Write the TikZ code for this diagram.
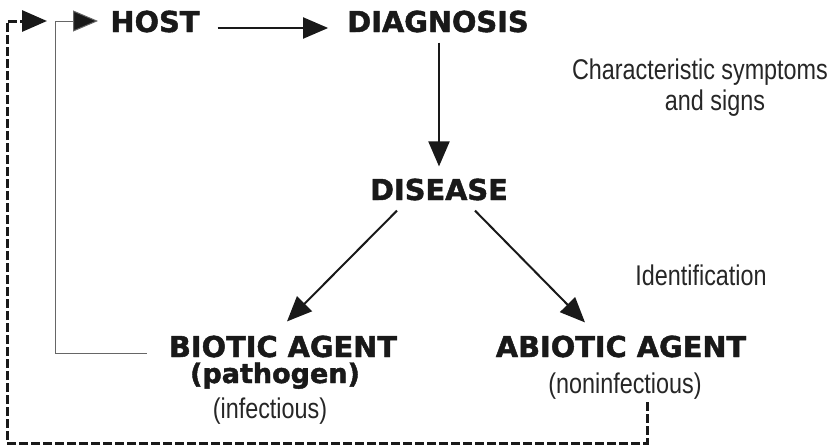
\documentclass[tikz,border=0pt]{standalone}
\usepackage{fontspec}
\setmainfont{Liberation Sans}
\newfontfamily\headfont[FakeBold=1.6]{DejaVu Sans Bold}
\newfontfamily\narrowfont[FakeStretch=0.82]{Liberation Sans}
\usetikzlibrary{arrows.meta}

\tikzset{
	head/.style	= {font=\headfont\fontsize{28.8}{30}\selectfont, inner sep=0pt, anchor=base, text=black!90},
	note/.style	= {font=\narrowfont\fontsize{28.5}{30}\selectfont, inner sep=0pt, anchor=base, text=black!85},
	link/.style	= {line width=2pt, draw=black!90, -{Triangle[length=25pt,width=21pt]}},
	fback/.style	= {line width=1pt, draw=black!60, -{Triangle[length=25pt,width=21pt,fill=black!90]}},
	dashlink/.style	= {line width=3pt, draw=black!90, dash pattern=on 9pt off 3pt, -{Triangle[length=25pt,width=21pt]}},
}

\begin{document}
\begin{tikzpicture}[x=1pt,y=-1pt]
	\useasboundingbox (0,0) rectangle (837,447);

	% main chain
	\node (host)	at (155, 32)	[head]	{HOST};
	\node (diag)	at (438, 32)	[head]	{DIAGNOSIS};
	\node (disease)	at (439,200)	[head]	{DISEASE};

	% agents
	\node (biotic)		at (283,357)	[head]	{BIOTIC AGENT};
	\node (pathogen)	at (275,383)	[head, font=\headfont\fontsize{27}{28}\selectfont]	{(pathogen)};
	\node (infect)		at (270,418)	[note]	{(infectious)};
	\node (abiotic)		at (621,357)	[head]	{ABIOTIC AGENT};
	\node (noninf)		at (625,393)	[note]	{(noninfectious)};

	% side notes
	\node (sympt)	at (700, 79)	[note]	{Characteristic symptoms};
	\node (signs)	at (715,110)	[note]	{and signs};
	\node (ident)	at (701,285)	[note]	{Identification};

	\coordinate (fbcorner)	at ( 55, 21);
	\coordinate (fbtip)	at ( 98, 21);
	\coordinate (dcorner)	at (  7, 21);
	\coordinate (dtip)	at ( 47, 21);

	\draw[link] ([shift={(18,-4)}]host.base east) -- ([shift={(-19,-4)}]diag.base west);
	\draw[link] ([shift={(1,10)}]diag.south) -- ([shift={(0,-12)}]disease.north);
	\draw[link] ([shift={(-42,10)}]disease.south) -- ([shift={(4,-14)}]biotic.north);
	\draw[link] ([shift={(36,10)}]disease.south) -- ([shift={(-36,-13)}]abiotic.north);

	% feedback to host
	\draw[fback] ([shift={(-22,-4)}]biotic.base west) -| (fbcorner) -- (fbtip);
	\draw[dashlink] ([shift={(22,9)}]noninf.base) -- ++(0,41) -| (dcorner) -- (dtip);
\end{tikzpicture}
\end{document}
